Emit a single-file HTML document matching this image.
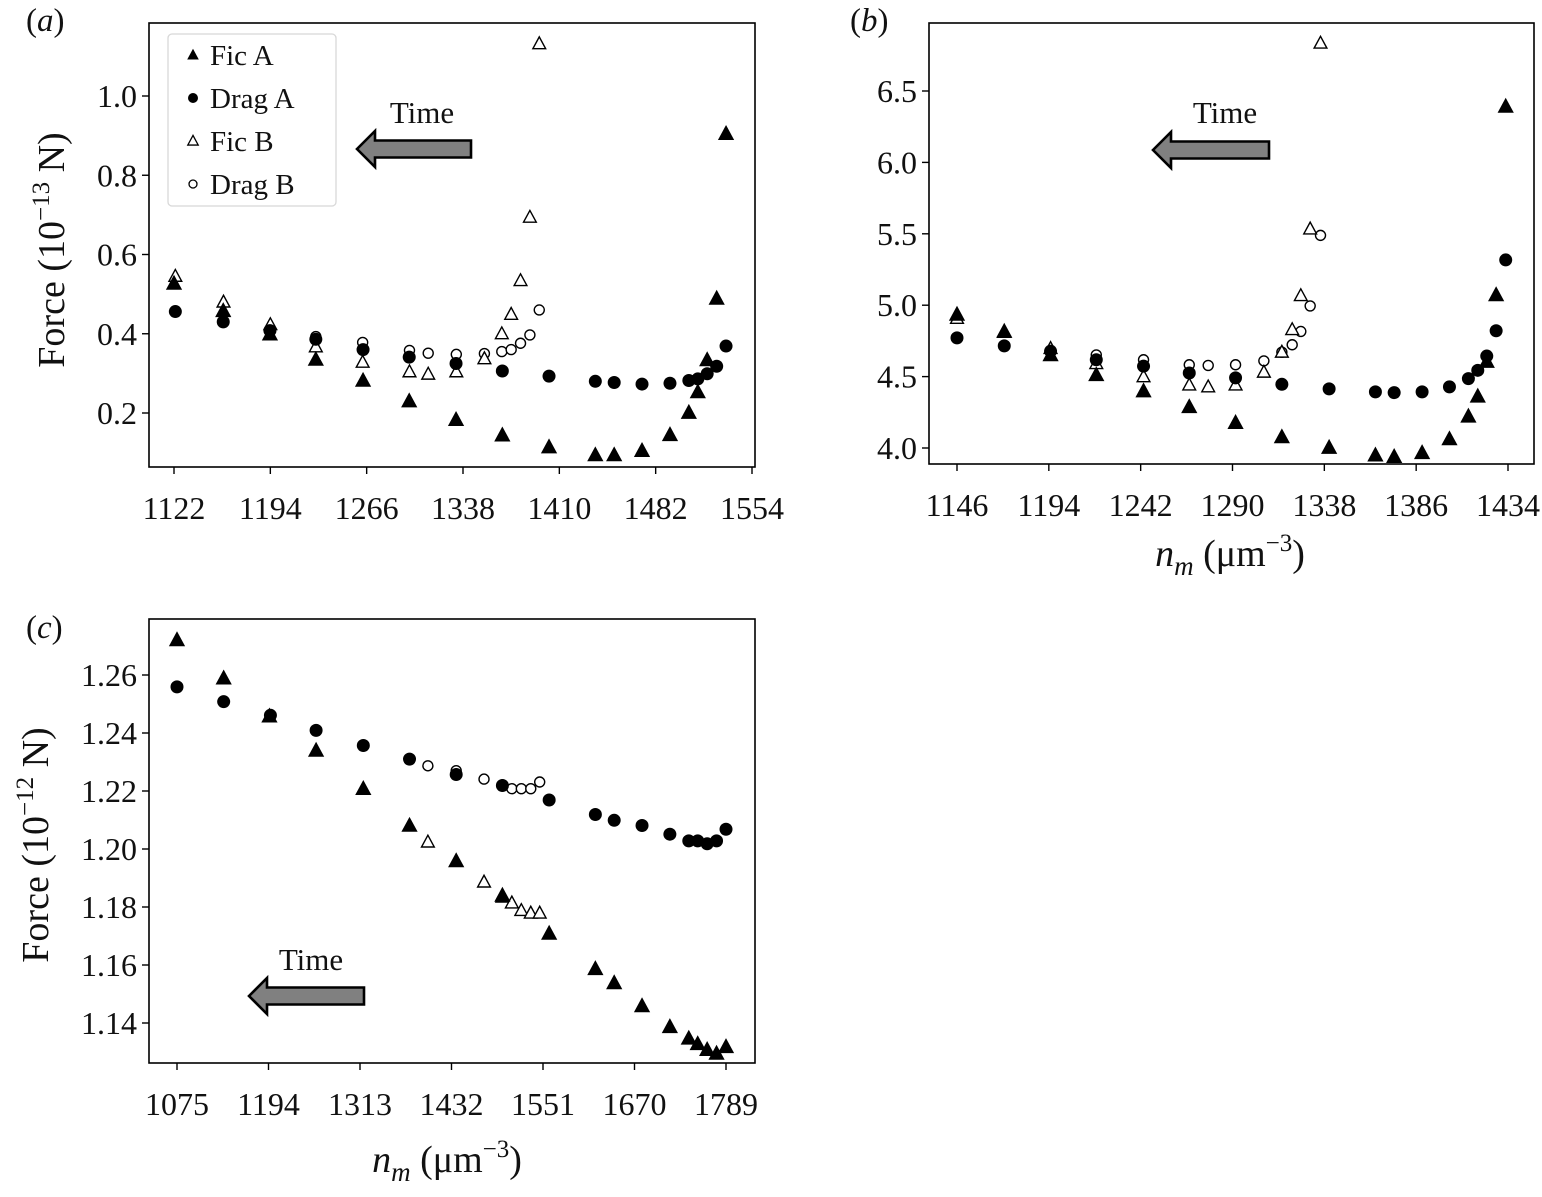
<!DOCTYPE html>
<html><head><meta charset="utf-8"><style>
html,body{margin:0;padding:0;background:#fff;}
svg{display:block;font-family:"Liberation Serif","DejaVu Serif",serif;}
</style></head><body>
<svg id="fig" width="1542" height="1197" viewBox="0 0 1542 1197" xmlns="http://www.w3.org/2000/svg">
<g id="root"></g>
</svg>
<script>
// ---------- Panel (a) data ----------
const aFicAx = [1122,1158.8,1193.7,1228,1263.3,1297.8,1332.8,1367.4,1402.3,1436.9,1451,1471.8,1492.7,1506.8,1513.5,1520.5,1527.6,1534.6];
const aFicAy = [0.527,0.458,0.399,0.335,0.282,0.230,0.183,0.144,0.114,0.094,0.094,0.105,0.145,0.201,0.253,0.334,0.489,0.905];
const aDragAx = [1123,1158.8,1193.7,1228,1263.3,1297.8,1332.8,1367.4,1402.3,1436.9,1451,1471.8,1492.7,1506.8,1513.5,1520.5,1527.6,1534.6];
const aDragAy = [0.456,0.430,0.408,0.386,0.360,0.341,0.325,0.306,0.293,0.280,0.277,0.273,0.275,0.282,0.286,0.299,0.318,0.369];
const aFicBx = [1123,1159,1194,1228,1263,1298,1312,1333,1354,1367,1374,1381,1388,1395];
const aFicBy = [0.545,0.480,0.423,0.367,0.328,0.304,0.298,0.304,0.337,0.400,0.449,0.534,0.694,1.132];
const aDragBx = [1228,1263,1298,1312,1333,1354,1367,1374,1381,1388,1395];
const aDragBy = [0.393,0.378,0.358,0.351,0.348,0.350,0.355,0.360,0.376,0.397,0.460];
const aXTicks = [1122,1194,1266,1338,1410,1482,1554];
const aYTicks = [0.2,0.4,0.6,0.8,1.0];
const aYLabels = ["0.2","0.4","0.6","0.8","1.0"];

// ---------- Panel (b) data ----------
const bFicAx = [1146,1170.7,1194.9,1218.8,1243.5,1267.4,1291.6,1315.8,1340.5,1364.7,1374.5,1389.1,1403.4,1413.3,1418.2,1422.9,1427.8,1432.8];
const bFicAy = [4.935,4.816,4.652,4.512,4.399,4.288,4.177,4.077,4.003,3.950,3.939,3.966,4.063,4.222,4.362,4.605,5.072,6.392];
const bDragAx = [1146,1170.7,1194.9,1218.8,1243.5,1267.4,1291.6,1315.8,1340.5,1364.7,1374.5,1389.1,1403.4,1413.3,1418.2,1422.9,1427.8,1432.8];
const bDragAy = [4.771,4.715,4.678,4.618,4.573,4.525,4.491,4.446,4.414,4.393,4.388,4.393,4.428,4.486,4.544,4.644,4.821,5.317];
const bFicBx = [1146,1170.7,1194.9,1218.8,1243.5,1267.4,1277.3,1291.6,1306.4,1315.8,1321.2,1325.7,1330.6,1336.0];
const bFicBy = [4.908,4.810,4.697,4.591,4.499,4.441,4.428,4.441,4.531,4.671,4.829,5.067,5.534,6.835];
const bDragBx = [1218.8,1243.5,1267.4,1277.3,1291.6,1306.4,1315.8,1321.2,1325.7,1330.6,1336.0];
const bDragBy = [4.652,4.618,4.583,4.578,4.583,4.610,4.671,4.723,4.816,4.995,5.489];
const bXTicks = [1146,1194,1242,1290,1338,1386,1434];
const bYTicks = [4.0,4.5,5.0,5.5,6.0,6.5];
const bYLabels = ["4.0","4.5","5.0","5.5","6.0","6.5"];

// ---------- Panel (c) data ----------
const cFicAx = [1075,1135.7,1195.2,1255.9,1317.3,1377.4,1438.1,1498.2,1559.0,1619.1,1643.6,1679.8,1716.0,1740.6,1752.2,1764.5,1776.7,1789];
const cFicAy = [1.2721,1.2589,1.2458,1.2340,1.2208,1.2081,1.1959,1.1840,1.1709,1.1587,1.1538,1.1459,1.1387,1.1347,1.1328,1.1308,1.1295,1.1318];
const cDragAx = [1075,1135.7,1196.5,1255.9,1317.3,1377.4,1438.1,1498.2,1559.0,1619.1,1643.6,1679.8,1716.0,1740.6,1752.2,1764.5,1776.7,1789];
const cDragAy = [1.2559,1.2508,1.2461,1.2409,1.2357,1.2310,1.2257,1.2219,1.2169,1.2119,1.2099,1.2081,1.2051,1.2028,1.2028,1.2018,1.2028,1.2068];
const cFicBx = [1401.3,1474.3,1498.2,1510.5,1522.8,1535.1,1546.7];
const cFicBy = [1.2024,1.1886,1.1834,1.1814,1.1788,1.1779,1.1779];
const cDragBx = [1401.3,1438.1,1474.3,1498.2,1510.5,1522.8,1535.1,1546.7];
const cDragBy = [1.2287,1.2270,1.2241,1.2221,1.2208,1.2208,1.2208,1.2231];
const cXTicks = [1075,1194,1313,1432,1551,1670,1789];
const cYTicks = [1.14,1.16,1.18,1.20,1.22,1.24,1.26];
const cYLabels = ["1.14","1.16","1.18","1.20","1.22","1.24","1.26"];

const NS = "http://www.w3.org/2000/svg";
const root = document.getElementById('root');
function mk(tag, attrs, parent){
  const e = document.createElementNS(NS, tag);
  for (const k in attrs) e.setAttribute(k, attrs[k]);
  (parent||root).appendChild(e);
  return e;
}
function lin(d0,d1,p0,p1){ return v => p0 + (v-d0)*(p1-p0)/(d1-d0); }

function triPts(x,y,s){ return `${x},${y-s*0.62} ${x-s*0.58},${y+s*0.45} ${x+s*0.58},${y+s*0.45}`; }

function drawPanel(cfg){
  const g = mk('g', {});
  
  
  const sx = lin(cfg.xd[0], cfg.xd[1], cfg.xp[0], cfg.xp[1]);
  const sy = lin(cfg.yd[0], cfg.yd[1], cfg.yp[0], cfg.yp[1]);
  const L=cfg.box[0], T=cfg.box[1], R=cfg.box[2], B=cfg.box[3];
  const frame = mk('rect', {x:L,y:T,width:R-L,height:B-T,fill:'none',stroke:'#000','stroke-width':1.6}, g);
  
  
  cfg.xticks.forEach(t=>{
    const x = sx(t);
    mk('line',{x1:x,x2:x,y1:B,y2:B+7,stroke:'#000','stroke-width':1.4},g);
    const tx = mk('text',{x:x,y:B+52,'font-size':32,'text-anchor':'middle',fill:'#111'},g);
    tx.textContent = t;
    
    
  });
  cfg.yticks.forEach((t,i)=>{
    const y = sy(t);
    mk('line',{x1:L-7,x2:L,y1:y,y2:y,stroke:'#000','stroke-width':1.4},g);
    const ty = mk('text',{x:L-12,y:y+11,'font-size':32,'text-anchor':'end',fill:'#111'},g);
    ty.textContent = cfg.ylabels[i];
    
    
  });
  const series = [
    {xs:cfg.dragB[0], ys:cfg.dragB[1], type:'oc', n:'drag-b-point'},
    {xs:cfg.ficB[0], ys:cfg.ficB[1], type:'ot', n:'fic-b-point'},
    {xs:cfg.dragA[0], ys:cfg.dragA[1], type:'fc', n:'drag-a-point'},
    {xs:cfg.ficA[0], ys:cfg.ficA[1], type:'ft', n:'fic-a-point'}
  ];
  series.forEach(s=>{
    s.xs.forEach((xv,i)=>{
      const x = sx(xv), y = sy(s.ys[i]);
      let m;
      if (s.type==='fc') m = mk('circle',{cx:x,cy:y,r:6.5,fill:'#000'},g);
      else if (s.type==='oc') m = mk('circle',{cx:x,cy:y,r:5,fill:'#fff',stroke:'#000','stroke-width':1.4},g);
      else if (s.type==='ft') m = mk('polygon',{points:triPts(x,y,14),fill:'#000'},g);
      else m = mk('polygon',{points:triPts(x,y,11),fill:'#fff',stroke:'#000','stroke-width':1.4},g);
      
      
    });
  });
  const a = cfg.arrow;
  const arr = mk('g',{},g);
  
  
  const pts = `${a[0]},${a[1]} ${a[2]},${a[1]-18} ${a[2]},${a[1]-8.5} ${a[3]},${a[1]-8.5} ${a[3]},${a[1]+8.5} ${a[2]},${a[1]+8.5} ${a[2]},${a[1]+18}`;
  mk('polygon',{points:pts,fill:'#808080',stroke:'#000','stroke-width':2.6,'stroke-linejoin':'miter'},arr);
  const tt = mk('text',{x:cfg.timeText[0],y:cfg.timeText[1],'font-size':31,'text-anchor':'middle',fill:'#111'},g);
  tt.textContent = 'Time';
  
  
  const pl = mk('text',{x:cfg.label[0],y:cfg.label[1],'font-size':33,fill:'#111'},g);
  pl.innerHTML = '(<tspan font-style="italic">'+cfg.letter+'</tspan>)';
  
  
  return g;
}

drawPanel({name:'panel-a', letter:'a', label:[26,31],
  box:[149,23,755,467], xd:[1122,1554], xp:[174,752], yd:[0.2,1.0], yp:[413,96],
  xticks:aXTicks, yticks:aYTicks, ylabels:aYLabels,
  ficA:[aFicAx,aFicAy], dragA:[aDragAx,aDragAy], ficB:[aFicBx,aFicBy], dragB:[aDragBx,aDragBy],
  arrow:[357,149,375,471], timeText:[422,123]});
drawPanel({name:'panel-b', letter:'b', label:[850,31],
  box:[929,23,1534,464], xd:[1146,1434], xp:[957,1508], yd:[4.0,6.5], yp:[448,91],
  xticks:bXTicks, yticks:bYTicks, ylabels:bYLabels,
  ficA:[bFicAx,bFicAy], dragA:[bDragAx,bDragAy], ficB:[bFicBx,bFicBy], dragB:[bDragBx,bDragBy],
  arrow:[1153,150,1171,1269], timeText:[1225,123]});
drawPanel({name:'panel-c', letter:'c', label:[26,638],
  box:[149,619,755,1063], xd:[1075,1789], xp:[177,726], yd:[1.14,1.26], yp:[1023,675],
  xticks:cXTicks, yticks:cYTicks, ylabels:cYLabels,
  ficA:[cFicAx,cFicAy], dragA:[cDragAx,cDragAy], ficB:[cFicBx,cFicBy], dragB:[cDragBx,cDragBy],
  arrow:[249,996,267,364], timeText:[311,970]});

function yTitle(x,y,exp,name){
  const t = mk('text',{x:0,y:0,'font-size':38,'text-anchor':'middle',fill:'#111',transform:`translate(${x},${y}) rotate(-90)`});
  t.innerHTML = 'Force (10<tspan dy="-15" font-size="25">−'+exp+'</tspan><tspan dy="15"> N)</tspan>';
  
  
}
yTitle(64,250,'13','y-axis-title-a');
yTitle(48,845,'12','y-axis-title-c');
function xTitle(x,y,name){
  const t = mk('text',{x:x,y:y,'font-size':38,'text-anchor':'middle',fill:'#111'});
  t.innerHTML = '<tspan font-style="italic">n</tspan><tspan font-style="italic" font-size="27" dy="9">m</tspan><tspan dy="-9"> (μm</tspan><tspan font-size="25" dy="-15">−3</tspan><tspan dy="15">)</tspan>';
  
  
}
xTitle(1230,566,'x-axis-title-b');
xTitle(447,1172,'x-axis-title-c');

const lg = mk('g',{});


mk('rect',{x:168,y:34,width:168,height:172,rx:4,fill:'#fff',stroke:'#d8d8d8','stroke-width':1.3},lg);
const legNames = ['Fic A','Drag A','Fic B','Drag B'];
const legY = [55,98,141,184];
legNames.forEach((nm,i)=>{
  const y = legY[i];
  const e = mk('g',{},lg);
  
  
  if (i===0) mk('polygon',{points:triPts(193,y,10),fill:'#000'},e);
  if (i===1) mk('circle',{cx:193,cy:y,r:5,fill:'#000'},e);
  if (i===2) mk('polygon',{points:triPts(193,y,9),fill:'#fff',stroke:'#000','stroke-width':1.3},e);
  if (i===3) mk('circle',{cx:193,cy:y,r:4,fill:'#fff',stroke:'#000','stroke-width':1.3},e);
  const t = mk('text',{x:210,y:y+10,'font-size':29,fill:'#111'},e);
  t.textContent = nm;
});
</script>
</body></html>
